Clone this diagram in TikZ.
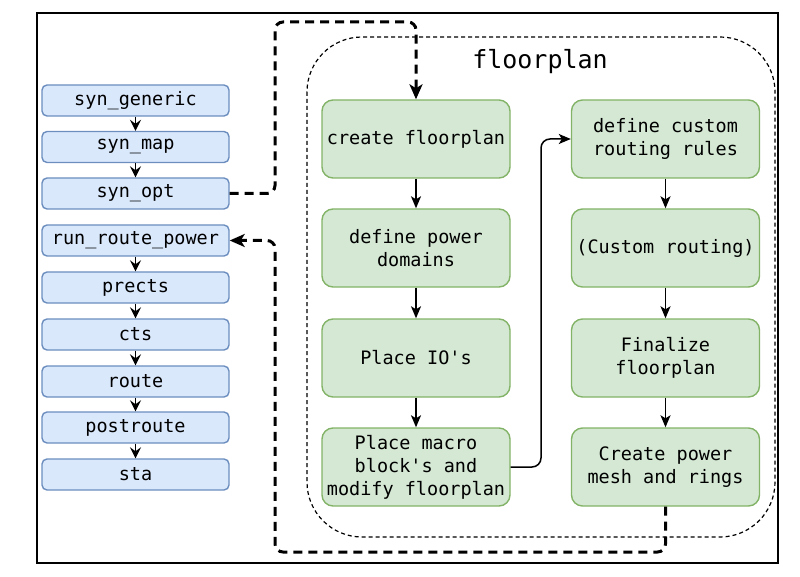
\documentclass[tikz,border=0pt]{standalone}
\usepackage{fontspec}
\setmonofont{DejaVu Sans Mono}
\usetikzlibrary{arrows.meta}
\definecolor{bfill}{HTML}{DAE8FC}
\definecolor{bdraw}{HTML}{6C8EBF}
\definecolor{gfill}{HTML}{D5E8D4}
\definecolor{gdraw}{HTML}{82B366}
\tikzset{
  bluebox/.style={draw=bdraw, fill=bfill, line width=1.4pt, rounded corners=5pt,
    minimum width=187pt, minimum height=31pt, inner sep=0pt, align=center,
    font=\ttfamily\fontsize{18.5}{23}\selectfont},
  greenbox/.style={draw=gdraw, fill=gfill, line width=1.4pt, rounded corners=11pt,
    minimum width=188pt, minimum height=78pt, inner sep=0pt, align=center,
    font=\ttfamily\fontsize{18.5}{23}\selectfont},
  arr/.style={-{Stealth[length=12pt,width=10pt,inset=3pt]}, line width=1.5pt},
  smallarr/.style={-{Stealth[length=11pt,width=11pt,inset=4pt]}, line width=1.5pt},
  thickdash/.style={line width=3pt, dash pattern=on 9pt off 6pt, rounded corners=8pt},
}
\begin{document}
\begin{tikzpicture}[x=1pt,y=-1pt]
\useasboundingbox (0,0) rectangle (800,577);
% outer frame
\draw[line width=2.6pt] (37,13) rectangle (778,563);
% floorplan container
\draw[line width=1.2pt, dash pattern=on 4pt off 3pt, rounded corners=55pt] (307,37) rectangle (775,537);
\node[font=\ttfamily\fontsize{25}{30}\selectfont, inner sep=0pt] (title) at (540,62) {floorplan};

% blue chain
\node[bluebox] (gen) at (135.5,100.5) {syn\_generic};
\node[bluebox] (map) at (135.5,147) {syn\_map};
\node[bluebox] (opt) at (135.5,193.5) {syn\_opt};
\node[bluebox] (rrp) at (135.5,240.5) {run\_route\_power};
\node[bluebox] (prects) at (135.5,287.5) {prects};
\node[bluebox] (cts) at (135.5,334.5) {cts};
\node[bluebox] (route) at (135.5,381.5) {route};
\node[bluebox] (post) at (135.5,427.5) {postroute};
\node[bluebox] (sta) at (135.5,474.5) {sta};
\foreach \a/\b in {gen/map, map/opt, rrp/prects, prects/cts, cts/route, route/post, post/sta}
  \draw[smallarr] (\a.south) -- (\b.north);

% green boxes
\node[greenbox] (cfp) at (416,139) {create floorplan};
\node[greenbox] (dpd) at (416,248) {define power\\domains};
\node[greenbox] (pio) at (416,358) {Place IO's};
\node[greenbox] (pmb) at (416,467) {Place macro\\block's and\\modify floorplan};
\node[greenbox] (dcr) at (665.5,139) {define custom\\routing rules};
\node[greenbox] (crt) at (665.5,248) {(Custom routing)};
\node[greenbox] (ffp) at (665.5,358) {Finalize\\floorplan};
\node[greenbox] (cpm) at (665.5,467) {Create power\\mesh and rings};

\draw[arr] (cfp) -- (dpd);
\draw[arr] (dpd) -- (pio);
\draw[arr] (pio) -- (pmb);
\draw[arr] (dcr) -- (crt);
\draw[arr] (crt) -- (ffp);
\draw[arr] (ffp) -- (cpm);
\draw[arr, rounded corners=9pt] (pmb.east) -- (541,467) -- (541,139) -- (dcr.west);

% dashed flow connectors
\draw[thickdash, -{Stealth[length=15pt,width=13pt,inset=4pt]}] (opt.east) -- (275,193.5) -- (275,22) -- (416,22) -- (cfp.north);
\draw[thickdash, -{Stealth[length=15pt,width=13pt,inset=4pt]}] (cpm.south) -- (665.5,552) -- (275,552) -- (275,240.5) -- (rrp.east);
\end{tikzpicture}
\end{document}
